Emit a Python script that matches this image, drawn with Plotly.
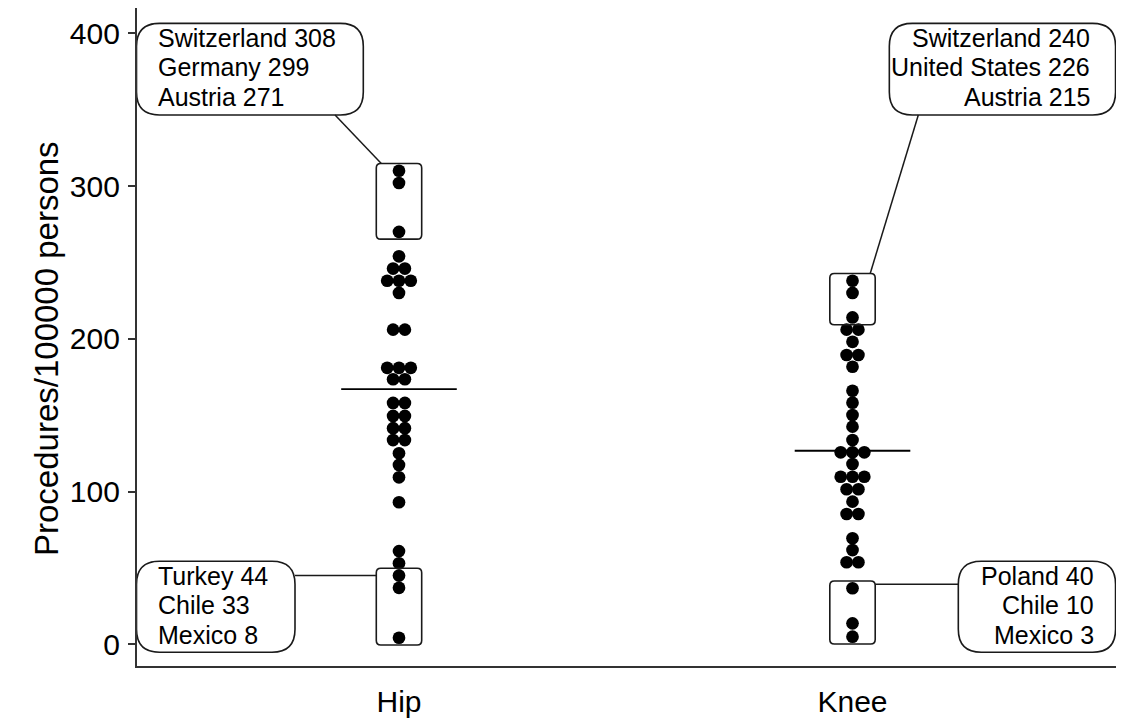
import plotly.graph_objects as go
from collections import Counter

# ---------------- data ----------------
categories = ["Hip", "Knee"]
hip_values = [310, 302, 270, 254, 246, 246, 238, 238, 238, 230,
              206, 206, 181, 181, 181, 173.5, 173.5,
              158, 158, 149.5, 149.5, 141.5, 141.5, 133.7, 133.7,
              125, 117.4, 109.3, 93, 61, 53, 45, 37, 4.3]
knee_values = [238, 230, 214, 206, 206, 198, 189.4, 189.4, 181.7,
               166, 158.2, 150.1, 142.5, 133.7, 125.7, 125.7, 125.7,
               118, 109.7, 109.7, 109.7, 101.5, 101.5, 93.4, 85.3, 85.3,
               69.4, 61.7, 53.7, 53.7, 36.7, 13.7, 5.0]
medians = [167, 126.7]
hip_top_labels = ["Switzerland 308", "Germany 299", "Austria 271"]
hip_bottom_labels = ["Turkey 44", "Chile 33", "Mexico 8"]
knee_top_labels = ["Switzerland 240", "United States 226", "Austria 215"]
knee_bottom_labels = ["Poland 40", "Chile 10", "Mexico 3"]
y_ticks = [0, 100, 200, 300, 400]
y_title = "Procedures/100000 persons"

# ---------------- layout geometry ----------------
W, H = 1122, 721
M = dict(l=137, r=6, t=8, b=55)
X_RANGE = [0.4223, 2.581]
Y_RANGE = [-14.21, 416.56]
PW = W - M["l"] - M["r"]
PH = H - M["t"] - M["b"]
PXX = PW / (X_RANGE[1] - X_RANGE[0])
PXY = PH / (Y_RANGE[1] - Y_RANGE[0])


def dxp(px):
    return px / PXX


def dyp(px):
    return px / PXY


FONT = "Liberation Sans, Arial, sans-serif"
DOT_SIZE = 12.7
DOT_STEP = 11.8
LINE_COL = "#1a1a1a"

fig = go.Figure()

# ---------------- dots ----------------
series = [hip_values, knee_values]
for ci, vals in enumerate(series):
    xc = ci + 1
    counts = Counter(vals)
    seen = Counter()
    xs, ys = [], []
    for v in vals:
        n = counts[v]
        k = seen[v]
        seen[v] += 1
        xs.append(xc + dxp((k - (n - 1) / 2) * DOT_STEP))
        ys.append(v)
    fig.add_trace(go.Scatter(x=xs, y=ys, mode="markers",
                             marker=dict(size=DOT_SIZE, color="black", line=dict(width=0)),
                             showlegend=False, hoverinfo="y"))

# ---------------- medians ----------------
for ci, m in enumerate(medians):
    xc = ci + 1
    fig.add_shape(type="line", xref="x", yref="y",
                  x0=xc - dxp(57.8), x1=xc + dxp(57.8), y0=m, y1=m,
                  line=dict(color="black", width=1.8), layer="above")


def rrect_path(x0, x1, y0, y1, r):
    rx, ry = dxp(r), dyp(r)
    return (f"M {x0+rx},{y0} L {x1-rx},{y0} Q {x1},{y0} {x1},{y0+ry} "
            f"L {x1},{y1-ry} Q {x1},{y1} {x1-rx},{y1} L {x0+rx},{y1} "
            f"Q {x0},{y1} {x0},{y1-ry} L {x0},{y0+ry} Q {x0},{y0} {x0+rx},{y0} Z")


# ---------------- highlight rects around groups ----------------
def group_rect(xc, vals):
    return dict(x0=xc - dxp(22.7), x1=xc + dxp(22.7),
                y0=min(vals) - dyp(7.3), y1=max(vals) + dyp(7.3))


hip_sorted = sorted(hip_values)
knee_sorted = sorted(knee_values)
rects = {
    "hip_top": group_rect(1, hip_sorted[-3:]),
    "hip_bottom": group_rect(1, hip_sorted[:3]),
    "knee_top": group_rect(2, knee_sorted[-3:]),
    "knee_bottom": group_rect(2, knee_sorted[:3]),
}
for r in rects.values():
    fig.add_shape(type="path", xref="x", yref="y",
                  path=rrect_path(r["x0"], r["x1"], r["y0"], r["y1"], 4.5),
                  line=dict(color=LINE_COL, width=1.6), fillcolor="rgba(0,0,0,0)",
                  layer="above")

# ---------------- label boxes ----------------
label_boxes = {
    "hip_top": dict(x0=0.4212, x1=0.9213, y0=346.5, y1=406.5,
                    lines=hip_top_labels, align="left", tx=0.4642),
    "knee_top": dict(x0=2.0812, x1=2.5800, y0=346.5, y1=406.5,
                     lines=knee_top_labels, align="right", tx=2.5275),
    "hip_bottom": dict(x0=0.4212, x1=0.7707, y0=-5.2, y1=54.4,
                       lines=hip_bottom_labels, align="left", tx=0.4642),
    "knee_bottom": dict(x0=2.2333, x1=2.5800, y0=-5.2, y1=54.4,
                        lines=knee_bottom_labels, align="right", tx=2.5370),
}
LINE_GAP = 29.5
for key, b in label_boxes.items():
    fig.add_shape(type="path", xref="x", yref="y",
                  path=rrect_path(b["x0"], b["x1"], b["y0"], b["y1"], 23),
                  line=dict(color=LINE_COL, width=1.6), fillcolor="white",
                  layer="above")
    yc = (b["y0"] + b["y1"]) / 2 + dyp(1.7)
    for i, txt in enumerate(b["lines"]):
        fig.add_annotation(x=b["tx"], y=yc - dyp((i - 1) * LINE_GAP), xref="x", yref="y",
                           text=txt, showarrow=False,
                           xanchor=b["align"], yanchor="middle",
                           font=dict(family=FONT, size=25, color="black"))

# ---------------- connectors ----------------
lb, rc = label_boxes, rects
connectors = [
    (0.859, lb["hip_top"]["y0"], rc["hip_top"]["x0"] + dxp(5), rc["hip_top"]["y1"]),
    (2.1451, lb["knee_top"]["y0"], rc["knee_top"]["x1"] - dxp(5), rc["knee_top"]["y1"]),
    (lb["hip_bottom"]["x1"], 45.0, rc["hip_bottom"]["x0"], 45.0),
    (rc["knee_bottom"]["x1"], 39.3, lb["knee_bottom"]["x0"], 39.3),
]
for x0, y0, x1, y1 in connectors:
    fig.add_shape(type="line", xref="x", yref="y", x0=x0, y0=y0, x1=x1, y1=y1,
                  line=dict(color=LINE_COL, width=1.5), layer="above")

# ---------------- y-axis title ----------------
fig.add_annotation(text=y_title, textangle=-90, showarrow=False,
                   xref="paper", yref="paper",
                   x=(46 - M["l"]) / PW, y=(H - M["b"] - 349) / PH,
                   xanchor="center", yanchor="middle",
                   font=dict(family=FONT, size=33, color="black"))

fig.update_layout(
    width=W, height=H, margin=M,
    paper_bgcolor="white", plot_bgcolor="white",
    showlegend=False,
    xaxis=dict(range=X_RANGE, tickvals=[1, 2], ticktext=categories,
               showline=True, linecolor="#333333", linewidth=2.2,
               ticks="", showgrid=False, zeroline=False,
               ticklabelstandoff=8, automargin=False,
               tickfont=dict(family=FONT, size=30, color="black"),
               fixedrange=True),
    yaxis=dict(range=Y_RANGE, tickvals=y_ticks,
               showline=True, linecolor="#333333", linewidth=2.2,
               ticks="outside", ticklen=7, tickwidth=2, tickcolor="#333333",
               showgrid=False, zeroline=False,
               ticklabelstandoff=2, automargin=False,
               tickfont=dict(family=FONT, size=30, color="black"),
               fixedrange=True),
)

fig.write_html("out.html", config={"displayModeBar": False},
               post_script="document.body.style.margin='0';document.body.style.overflow='hidden';")
